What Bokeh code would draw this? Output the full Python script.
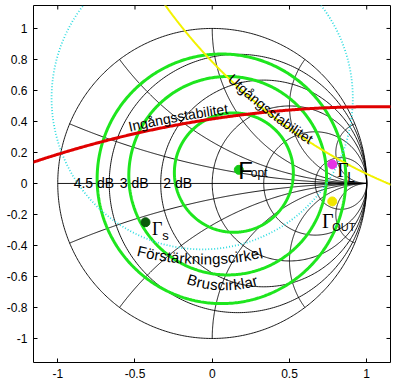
import numpy as np
from bokeh.plotting import figure
from bokeh.models import Range1d, FixedTicker
from bokeh.core.properties import value
from bokeh.embed import file_html
from bokeh.resources import INLINE

# ---------------- data ----------------
r_grid = [0.2, 0.5, 1, 2, 5]          # constant resistance circles
x_grid = [0.2, 0.5, 1, 2, 5]          # constant reactance arcs (+/-)

noise_labels = ["4.5 dB", "3 dB", "2 dB"]
noise_cx = [0.06, 0.10, 0.14]
noise_cy = [0.03, 0.05, 0.07]
noise_rad = [0.805, 0.64, 0.385]

gain_cx, gain_cy, gain_rad = -0.065, 0.55, 0.975      # gain circle (cyan dotted)
in_cx, in_cy, in_rad = 1.045, -6.47, 6.965            # input stability circle
out_cx, out_cy, out_rad = 2.47, 3.15, 3.42            # output stability circle

point_names = ["F_opt", "Gamma_L", "Gamma_OUT", "Gamma_s"]
point_x = [0.172, 0.777, 0.777, -0.432]
point_y = [0.088, 0.123, -0.116, -0.250]

x_ticks = [-1, -0.5, 0, 0.5, 1]
x_tick_labels = ["-1", "-0.5", "0", "0.5", "1"]
y_ticks = [-1, -0.8, -0.6, -0.4, -0.2, 0, 0.2, 0.4, 0.6, 0.8, 1]
y_tick_labels = ["-1", "-0.8", "-0.6", "-0.4", "-0.2", "0", "0.2", "0.4", "0.6", "0.8", "1"]

# ---------------- layout / style ----------------
W, H = 396, 384
BL, BR, BT, BB = 33, 6, 5, 22
X0, X1 = -1.157, 1.154
Y0, Y1 = -1.155, 1.148
SCALE = (W - BL - BR) / (X1 - X0)   # px per data unit

GREEN = "#1ee61e"
RED = "#e00000"
YELLOW = "#f2f200"
CYAN = "#30dce0"
point_color = ["#14c814", "#e632e6", "#f2e600", "#0b5a0b"]

SANS = "Liberation Sans"
SERIF = "Liberation Serif"

p = figure(width=W, height=H, x_range=Range1d(X0, X1), y_range=Range1d(Y0, Y1),
           output_backend="svg", toolbar_location=None,
           min_border_left=BL, min_border_right=BR, min_border_top=BT, min_border_bottom=BB)
p.background_fill_color = "white"
p.border_fill_color = "white"
p.outline_line_color = "black"
p.outline_line_width = 1
p.xgrid.visible = False
p.ygrid.visible = False


def style_axis(ax, ticks, labels):
    ax.ticker = FixedTicker(ticks=ticks)
    ax.major_label_overrides = {t: l for t, l in zip(ticks, labels)}
    ax.major_tick_in = 4
    ax.major_tick_out = 0
    ax.minor_tick_line_color = None
    ax.axis_line_color = None
    ax.major_tick_line_color = "black"
    ax.major_label_text_font = SANS
    ax.major_label_text_color = "black"
    ax.major_label_text_font_size = "12px"
    ax.major_label_standoff = 6


style_axis(p.xaxis[0], x_ticks, x_tick_labels)
style_axis(p.yaxis[0], y_ticks, y_tick_labels)

# inward tick marks on the top and right edges (box style)
p.scatter(x_ticks, [Y1] * len(x_ticks), marker="dash", size=8, angle=np.pi / 2,
          line_color="black", line_width=1)
p.scatter([X1] * len(y_ticks), y_ticks, marker="dash", size=8,
          line_color="black", line_width=1)


def ring(cx, cy, r, n=400):
    t = np.linspace(0, 2 * np.pi, n)
    return list(cx + r * np.cos(t)), list(cy + r * np.sin(t))


# ---------------- Smith chart grid ----------------
gx, gy = [], []
ux, uy = ring(0, 0, 1, 600)
gx.append(ux); gy.append(uy)
for r in r_grid:
    c = r / (1 + r)
    xs, ys = ring(c, 0, 1 / (1 + r), 400)
    gx.append(xs); gy.append(ys)
for xv in x_grid:
    cy = 1 / xv
    rad = 1 / xv
    px = (xv * xv - 1) / (xv * xv + 1)
    py = 2 * xv / (xv * xv + 1)
    a0 = np.arctan2(py - cy, px - 1)
    sweep = (-np.pi / 2 - a0) % (2 * np.pi)
    t = np.linspace(a0, a0 + sweep, 300)
    ax_ = 1 + rad * np.cos(t)
    ay_ = cy + rad * np.sin(t)
    gx.append(list(ax_)); gy.append(list(ay_))
    gx.append(list(ax_)); gy.append(list(-ay_))
gx.append([-1, 1]); gy.append([0, 0])
p.multi_line(gx, gy, line_color="black", line_width=0.9)

# ---------------- noise circles ----------------
nx, ny = [], []
for cx, cy, r in zip(noise_cx, noise_cy, noise_rad):
    xs, ys = ring(cx, cy, r, 500)
    nx.append(xs); ny.append(ys)
p.multi_line(nx, ny, line_color=GREEN, line_width=3)

# ---------------- gain circle ----------------
cxs, cys = ring(gain_cx, gain_cy, gain_rad, 600)
p.line(cxs, cys, line_color=CYAN, line_width=1.8, line_dash="1 2")

# ---------------- stability circles ----------------
rx, ry = ring(in_cx, in_cy, in_rad, 6000)
p.line(rx, ry, line_color=RED, line_width=3)
yx, yy = ring(out_cx, out_cy, out_rad, 4000)
p.line(yx, yy, line_color=YELLOW, line_width=2)

# ---------------- points ----------------
p.scatter(point_x, point_y, size=9, fill_color=point_color, line_color=point_color)

# ---------------- labels ----------------
noise_label_x = [-0.897, -0.598, -0.317]
noise_label_y = [0.005, 0.005, 0.005]
p.text(noise_label_x, noise_label_y, text=noise_labels, text_font=value(SANS),
       text_font_size="14px", text_color="black", text_align="left", text_baseline="alphabetic")

# F_opt
p.text([0.168], [0.082], text=["F"], text_font=value(SANS), text_font_size="24px",
       text_color="black", text_baseline="alphabetic")
p.text([0.250], [0.070], text=["opt"], text_font=value(SANS), text_font_size="12px",
       text_color="black", text_baseline="alphabetic")
# Gamma labels
p.text([0.807, 0.710], [0.084, -0.239], text=["Γ", "Γ"], text_font=value(SERIF),
       text_font_size="20px", text_color="black", text_baseline="alphabetic")
p.text([-0.390], [-0.292], text=["Γ"], text_font=value(SERIF),
       text_font_size="18px", text_color="black", text_baseline="alphabetic")
p.text([0.874], [0.039], text=["L"], text_font=value(SANS), text_font_size="14px",
       text_color="black", text_baseline="alphabetic")
p.text([0.777], [-0.282], text=["OUT"], text_font=value(SANS), text_font_size="11px",
       text_color="black", text_baseline="alphabetic")
p.text([-0.324], [-0.335], text=["s"], text_font=value(SANS), text_font_size="13px",
       text_color="black", text_baseline="alphabetic")

# curved labels
CW = {' ': 278, 'a': 556, 'b': 556, 'c': 500, 'd': 556, 'e': 556, 'g': 556, 'i': 222,
      'k': 500, 'l': 222, 'n': 556, 'r': 333, 's': 500, 't': 278, 'u': 556, 'å': 556,
      'ä': 556, 'ö': 556, 'B': 667, 'F': 611, 'I': 278, 'U': 722}

curve_texts = ["Ingångsstabilitet", "Utgångsstabilitet", "Förstärkningscirkel", "Bruscirklar"]
curve_cx = [in_cx, out_cx, -0.05, 0.08]
curve_cy = [in_cy, out_cy, 1.265, 0.076]
curve_x0 = [-0.542, 0.118, -0.483, -0.160]
curve_y0 = [0.365, 0.690, -0.432, -0.613]
curve_ccw = [False, True, True, True]
curve_fs = [14, 14, 15, 15]

for txt, cx, cy, x0, y0, ccw, fs in zip(curve_texts, curve_cx, curve_cy, curve_x0,
                                         curve_y0, curve_ccw, curve_fs):
    rb = np.hypot(x0 - cx, y0 - cy)
    phi0 = np.arctan2(y0 - cy, x0 - cx)
    sgn = 1 if ccw else -1
    s = 0.0
    xs, ys, angs, chars = [], [], [], []
    for ch in txt:
        w = CW.get(ch, 556) * fs / 1000.0 / SCALE
        phi = phi0 + sgn * (s + w / 2) / rb
        xs.append(cx + rb * np.cos(phi))
        ys.append(cy + rb * np.sin(phi))
        angs.append(phi + sgn * np.pi / 2)
        chars.append(ch)
        s += w
    p.text(xs, ys, text=chars, angle=angs, text_font=value(SANS), text_font_size=f"{fs}px",
           text_color="black", text_align="center", text_baseline="alphabetic")

open("out.html", "w").write(file_html(p, INLINE))
